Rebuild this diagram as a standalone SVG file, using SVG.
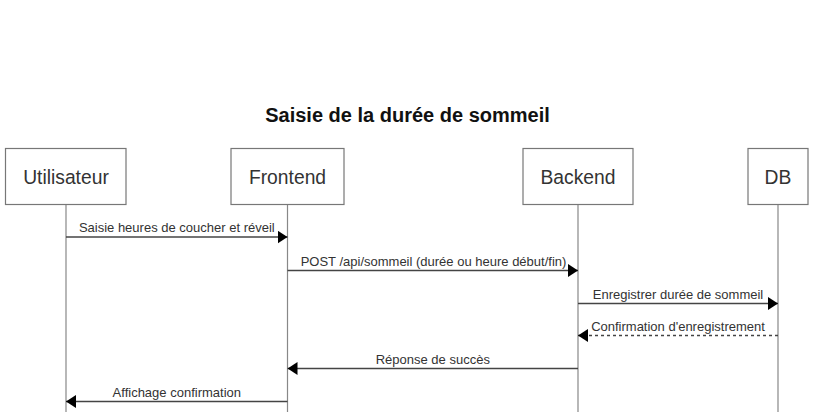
<svg xmlns="http://www.w3.org/2000/svg" width="814" height="412" viewBox="0 0 814 412">
<style>
.bg{fill:#ffffff}
.actor rect{fill:#ffffff;stroke:#777777;stroke-width:1.2}
.actor text{font-family:"Liberation Sans",Arial,sans-serif;font-size:19.3px;fill:#333333;text-anchor:middle}
.life{stroke:#888888;stroke-width:1.2;fill:none}
.msg{stroke:#444444;stroke-width:1.3;fill:none;marker-end:url(#arrow)}
.dash{stroke-dasharray:3,3}
.lbl{font-family:"Liberation Sans",Arial,sans-serif;font-size:13px;fill:#333333;text-anchor:middle}
.title{font-family:"Liberation Sans",Arial,sans-serif;font-size:20px;font-weight:bold;fill:#111111;text-anchor:middle}
</style>
<defs>
<marker id="arrow" markerUnits="userSpaceOnUse" markerWidth="10" markerHeight="13" refX="10" refY="6.5" orient="auto">
<path d="M0,0 L10,6.5 L0,13 z" fill="#000000"/>
</marker>
</defs>
<rect class="bg" x="0" y="0" width="814" height="412"/>
<text class="title" x="407.5" y="121.5">Saisie de la durée de sommeil</text>
<g id="lifelines">
<line class="life" x1="66" y1="205" x2="66" y2="412"/>
<line class="life" x1="287.5" y1="205" x2="287.5" y2="412"/>
<line class="life" x1="578" y1="205" x2="578" y2="412"/>
<line class="life" x1="778" y1="205" x2="778" y2="412"/>
</g>
<g id="utilisateur" class="actor">
<rect x="5.5" y="148.5" width="120.5" height="56"/>
<text x="66" y="183.5">Utilisateur</text>
</g>
<g id="frontend" class="actor">
<rect x="231" y="148.5" width="113" height="56"/>
<text x="287.5" y="183.5">Frontend</text>
</g>
<g id="backend" class="actor">
<rect x="523" y="148.5" width="110" height="56"/>
<text x="578" y="183.5">Backend</text>
</g>
<g id="db" class="actor">
<rect x="748" y="148.5" width="60" height="56"/>
<text x="778" y="183.5">DB</text>
</g>
<g id="connectors">
<line class="msg" x1="66" y1="237" x2="287.5" y2="237"/>
<text class="lbl" x="176.8" y="232">Saisie heures de coucher et réveil</text>
<line class="msg" x1="287.5" y1="270.5" x2="578" y2="270.5"/>
<text class="lbl" x="433.5" y="265.5">POST /api/sommeil (durée ou heure début/fin)</text>
<line class="msg" x1="578" y1="303.5" x2="778" y2="303.5"/>
<text class="lbl" x="678" y="298.5">Enregistrer durée de sommeil</text>
<line class="msg dash" x1="778" y1="335.5" x2="578" y2="335.5"/>
<text class="lbl" x="678" y="330.5">Confirmation d'enregistrement</text>
<line class="msg" x1="578" y1="368.5" x2="287.5" y2="368.5"/>
<text class="lbl" x="432.8" y="363.5">Réponse de succès</text>
<line class="msg" x1="287.5" y1="401.5" x2="66" y2="401.5"/>
<text class="lbl" x="176.8" y="396.5">Affichage confirmation</text>
</g>
</svg>
